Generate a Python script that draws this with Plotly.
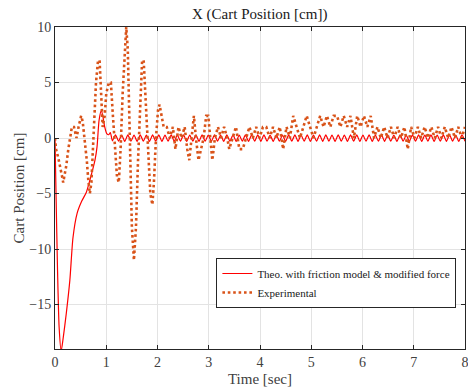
import numpy as np
import plotly.graph_objects as go

# ---------------- data ----------------
# Theoretical (with friction model & modified force): transient key points
theo_t_early = [0.00, 0.02, 0.05, 0.08, 0.12, 0.16, 0.22, 0.29, 0.35, 0.43, 0.52, 0.61,
                0.68, 0.78, 0.82, 0.86, 0.905, 0.94, 0.97, 1.01, 1.05, 1.08]
theo_y_early = [0.0, -5.0, -12.0, -17.0, -19.2, -18.0, -15.8, -12.8, -9.0, -6.8, -5.7, -4.9,
                -3.8, -2.0, -0.8, 1.6, 2.5, 1.8, 1.0, 0.4, 0.3, 0.5]
# steady-state ripple (peaks / troughs), 1.12 s .. 8.0 s
theo_y_ripple = [
    -0.25, 0.28, -0.28, 0.27, -0.30, 0.28, -0.29, 0.27, -0.30, 0.28,
    -0.29, 0.27, -0.30, 0.28, -0.29, 0.28, -0.30, 0.27, -0.29, 0.28,
    -0.30, 0.27, -0.29, 0.28, -0.30, 0.27, -0.29, 0.28, -0.30, 0.28,
    -0.29, 0.27, -0.30, 0.28, -0.29, 0.27, -0.30, 0.28, -0.29, 0.28,
    -0.30, 0.27, -0.29, 0.28, -0.30, 0.27, -0.29, 0.28, -0.30, 0.28,
    -0.29, 0.27, -0.30, 0.28, -0.29, 0.27, -0.30, 0.28, -0.29, 0.28,
    -0.30, 0.27, -0.29, 0.28, -0.30, 0.27, -0.29, 0.28, -0.30, 0.28,
    -0.29, 0.27, -0.30, 0.28, -0.29, 0.27, -0.30, 0.28, -0.29, 0.28,
    -0.30, 0.27, -0.29, 0.28, -0.30, 0.27, -0.29, 0.28, -0.30, 0.28,
    -0.29, 0.27, -0.30, 0.28, -0.29, 0.27, -0.30, 0.28, -0.29, 0.28,
    -0.30, 0.27, -0.29, 0.28, -0.30, 0.27, -0.29, 0.28, -0.30, 0.28,
    -0.29, 0.27, -0.30, 0.28, -0.29,
]
theo_ripple_start, theo_ripple_end = 1.12, 8.0

# Experimental: transient key points
exp_t_early = [0.00, 0.02, 0.06, 0.10, 0.14, 0.16, 0.19, 0.22, 0.26, 0.30, 0.33, 0.37,
               0.42, 0.46, 0.51, 0.54, 0.58, 0.62, 0.65, 0.68, 0.71, 0.74, 0.77, 0.80,
               0.84, 0.87, 0.90, 0.93, 0.97, 1.00, 1.05, 1.09, 1.13, 1.17, 1.21, 1.245,
               1.28, 1.32, 1.36, 1.39, 1.42, 1.46, 1.50, 1.54, 1.58, 1.62, 1.66, 1.70,
               1.73, 1.77, 1.82, 1.86, 1.90, 1.93, 1.97, 2.01, 2.04, 2.08, 2.12, 2.18,
               2.24, 2.30, 2.35, 2.41, 2.47, 2.53, 2.58, 2.62, 2.66, 2.71, 2.75, 2.80,
               2.85, 2.90, 2.95, 2.99, 3.03, 3.07, 3.12, 3.18, 3.24, 3.30, 3.36]
exp_y_early = [0, -1, -1.7, -2.5, -3.5, -4, -3.3, -2.5, -1, 0, 1, 1,
               0, 1, 2, 1.5, 0, -2, -3.8, -5, -4, -1, 2, 5,
               7, 7, 4, 1, 2, 4, 5, 5, 2, -1, -3.5, -4,
               -1, 4, 8, 10, 8, 0, -8, -11, -8, -2, 3, 7,
               7, 3, -2, -5, -6, -4, 0, 2.5, 3, 2, 1, 1,
               0, 1, -1, 1, 0, 1, -1, -2, 0, 2, 0, -2,
               -1, 0, 2, 2, 0, -2, 0, 1, 0, 1, 0]
# Experimental: quantised steady part, 3.40 s .. 8.0 s (uniform samples)
exp_y_late = [-1, 0, 1, -1, -1, 0, 1, 0, 1, 0,
              1, 1, 0, 1, 0, 1, -1, 1, 0, 2,
              1, 0, 1, 2, 1, 0, 1, 2, 1, 2,
              1, 2, 2, 1, 2, 1, 2, 0, 2, 1,
              2, 1, 2, 0, 1, 0, 1, 0, 1, 0,
              1, 0, 1, -1, 1, 0, 1, 0, 1, 0,
              1, 0, 1, 0, 1, 0, 1, 0, 1, 0, 1]
exp_late_start, exp_late_end = 3.40, 8.0

x_ticks = [0, 1, 2, 3, 4, 5, 6, 7, 8]
y_ticks = [-15, -10, -5, 0, 5, 10]

# ---------------- assemble ----------------
theo_t = theo_t_early + list(np.linspace(theo_ripple_start, theo_ripple_end, len(theo_y_ripple)))
theo_y = theo_y_early + theo_y_ripple
exp_t = exp_t_early + list(np.linspace(exp_late_start, exp_late_end, len(exp_y_late)))
exp_y = exp_y_early + exp_y_late

FONT = "Liberation Serif"
AX = "#262626"

fig = go.Figure()
fig.add_trace(go.Scatter(x=theo_t, y=theo_y, mode="lines",
                         name="Theo. with friction model & modified force",
                         line=dict(color="#FF0000", width=1.2, shape="spline", smoothing=0.6)))
fig.add_trace(go.Scatter(x=exp_t, y=exp_y, mode="lines", name="Experimental",
                         line=dict(color="#D95319", width=2.6, dash="2.6px,2.8px")))

axis_common = dict(showline=True, linecolor=AX, linewidth=1, mirror="ticks",
                   ticks="inside", ticklen=4, tickcolor=AX, automargin=False,
                   ticklabeloverflow="allow",
                   showgrid=True, gridcolor="#E3E3E3", gridwidth=1, zeroline=False,
                   tickfont=dict(family=FONT, size=14, color="#404040"))

fig.update_xaxes(range=[0, 8], tickvals=x_ticks, **axis_common,
                 title=dict(text="Time [sec]", font=dict(family=FONT, size=15, color="#404040"), standoff=4))
fig.update_yaxes(range=[-19, 10], tickvals=y_ticks, **axis_common,
                 title=dict(text="Cart Position [cm]", font=dict(family=FONT, size=15, color="#404040"), standoff=1))

fig.update_layout(
    width=468, height=389,
    margin=dict(l=55, r=3, t=27, b=40, autoexpand=False),
    paper_bgcolor="white", plot_bgcolor="white",
    font=dict(family=FONT),
    title=dict(text="X (Cart Position [cm])", x=0.555, xanchor="center", y=0.965, yanchor="middle",
               font=dict(family=FONT, size=15, color="#202020")),
    legend=dict(x=0.979, xanchor="right", y=0.205, yanchor="middle",
                bgcolor="white", bordercolor=AX, borderwidth=1,
                font=dict(family=FONT, size=11, color="#202020"),
                tracegroupgap=0, itemwidth=30),
    showlegend=True,
)

fig.write_html("out.html", config={"displayModeBar": False},
               post_script="document.body.style.margin='0';document.body.style.padding='0';")
